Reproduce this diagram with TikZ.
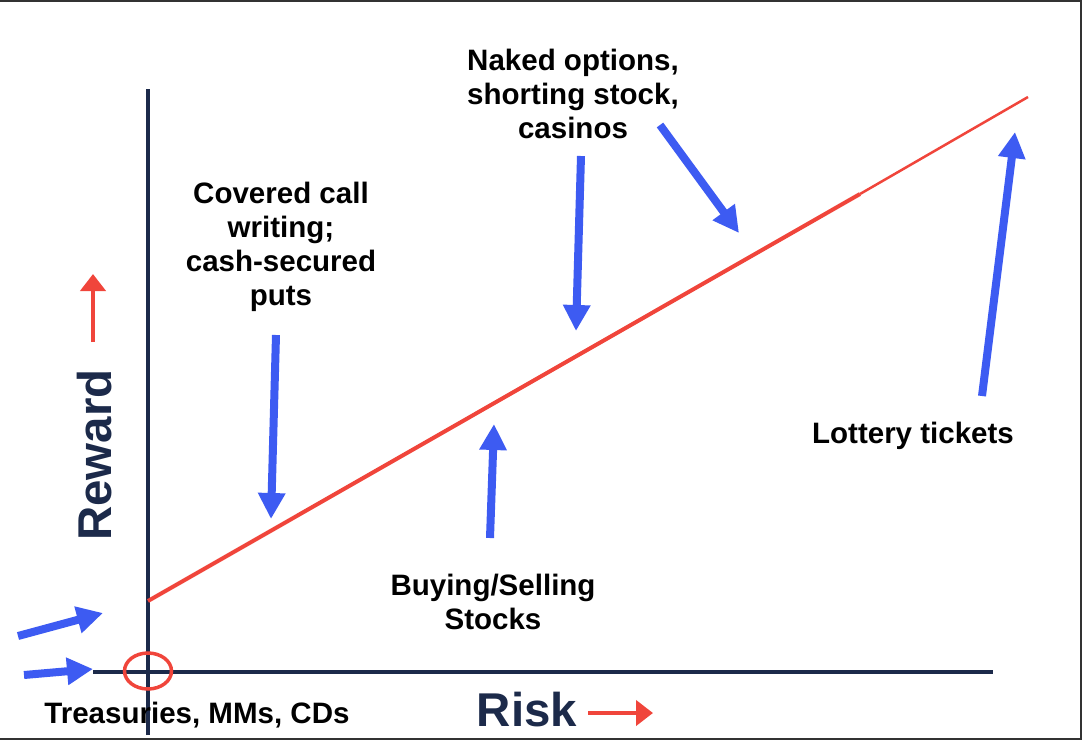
\documentclass[tikz,border=0pt]{standalone}
\usepackage{fontspec}
\setmainfont{Liberation Sans}
\usetikzlibrary{arrows.meta,shapes.geometric}
\definecolor{axisnavy}{HTML}{1C2A4A}
\definecolor{linered}{HTML}{F0453B}
\definecolor{arrowblue}{HTML}{3D5BF2}
\begin{document}
\begin{tikzpicture}[x=0.02cm,y=-0.02cm,
  note/.style={font=\fontsize{16.8}{19.4}\selectfont\bfseries,align=center,inner sep=0pt},
  axlabel/.style={text=axisnavy,font=\fontsize{27}{30}\selectfont\bfseries,inner sep=0pt},
  axis/.style={draw=axisnavy,line width=0.08cm},
  pointer/.style={draw=arrowblue,line width=0.16cm,-{Triangle[length=0.52cm,width=0.52cm]}},
  hint/.style={draw=linered,line width=0.09cm,-{Triangle[length=0.34cm,width=0.5cm]}}]
\useasboundingbox (0,0) rectangle (1083,745);
\draw[black!80,line width=0.04cm] (0,1) -- (1081,1) -- (1081,739) -- (0,739);
\coordinate (ytop) at (148,89);
\coordinate (ybot) at (148,735);
\coordinate (xleft) at (93,672);
\coordinate (xright) at (993,672);
\draw[axis] (ybot) -- (ytop);
\draw[axis] (xleft) -- (xright);
\node[ellipse,draw=linered,line width=0.07cm,minimum width=0.94cm,minimum height=0.72cm,inner sep=0pt] (safe) at (148,671) {};
\coordinate (r0) at (148,601);
\coordinate (rmid) at (860,194);
\coordinate (r1) at (1028,97);
\draw[linered,line width=0.08cm] (r0) -- (rmid);
\draw[linered,line width=0.05cm] (rmid) -- (r1);
\node[note] (naked) at (573,94) {Naked options,\\shorting stock,\\casinos};
\node[note] (covered) at (281,247) {Covered call\\writing;\\cash-secured\\puts};
\node[note] (buying) at (493,602) {Buying/Selling\\Stocks};
\node[note] (lottery) at (913,436) {Lottery tickets};
\node[note] (treas) at (197,715) {Treasuries, MMs, CDs};
\node[axlabel] (risk) at (527,710) {Risk};
\node[axlabel,rotate=90] (reward) at (95,455) {Reward};
\coordinate (risk0) at (588,713);
\coordinate (risk1) at (653,713);
\coordinate (reward0) at (93,342);
\coordinate (reward1) at (93,274);
\draw[hint] (risk0) -- (risk1);
\draw[hint] (reward0) -- (reward1);
\coordinate (p1a) at (18,636);   \coordinate (p1b) at (103,613);
\coordinate (p2a) at (24,675);   \coordinate (p2b) at (93,669);
\coordinate (p3a) at (276,335);  \coordinate (p3b) at (271,519);
\coordinate (p4a) at (490,538);  \coordinate (p4b) at (494,424);
\coordinate (p5a) at (581,156);  \coordinate (p5b) at (576,331);
\coordinate (p6a) at (660,125);  \coordinate (p6b) at (739,233);
\coordinate (p7a) at (982,396);  \coordinate (p7b) at (1015,132);
\foreach \i in {1,...,7}
  \draw[pointer] (p\i a) -- (p\i b);
\end{tikzpicture}
\end{document}
